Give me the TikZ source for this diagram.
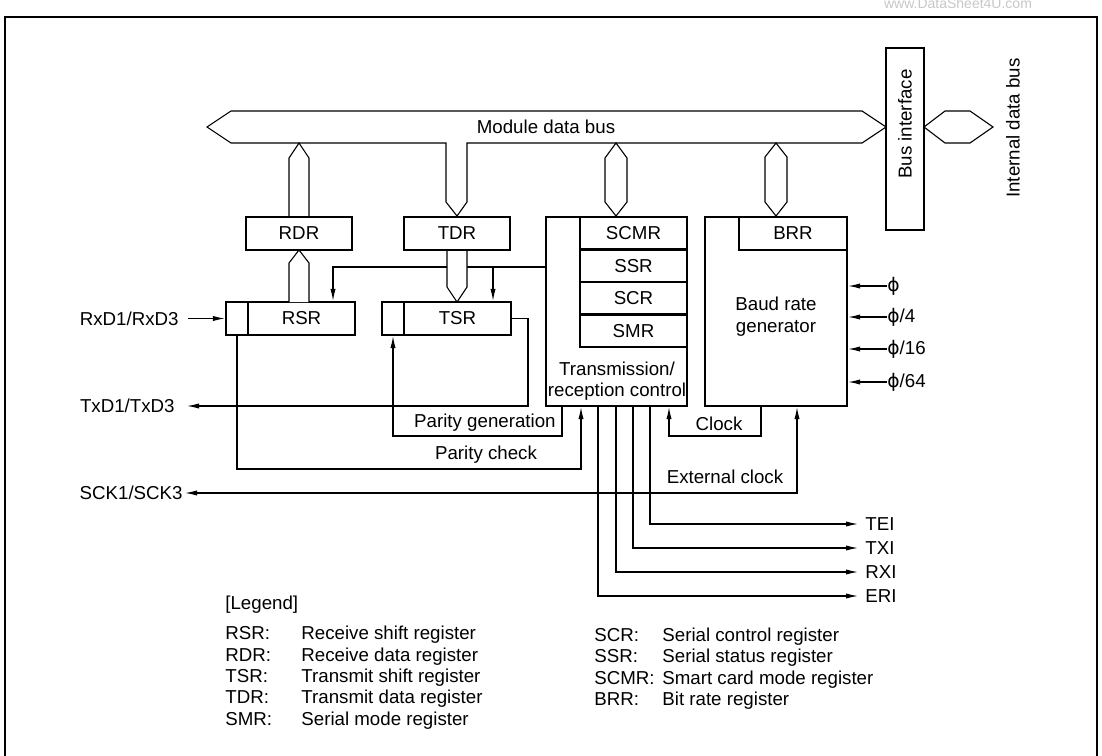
\documentclass[tikz,border=0pt]{standalone}
\usepackage{fontspec}
\setmainfont{Liberation Sans}
\newfontfamily\dejavu{DejaVu Sans}
\usetikzlibrary{arrows.meta}
\begin{document}
\begin{tikzpicture}[x=0.5pt,y=-0.5pt,
  font=\fontsize{9.35}{10.6}\selectfont,
  reg/.style={draw, line width=1.1pt, minimum height=16.5pt, inner sep=0pt},
  thin/.style={line width=0.55pt},
  bus/.style={line width=0.55pt, fill=white, line join=miter},
  arr/.style={line width=0.55pt, -{Latex[length=6pt,width=2.6pt]}},
  lbl/.style={inner sep=0pt}]
\useasboundingbox (0,0) rectangle (1102,755);
\clip (0,0) rectangle (1102,755);
% frame
\draw[line width=1.35pt] (5,770) -- (5,17) -- (1097,17) -- (1097,770);
\node[lbl, text=black!22, font=\fontsize{7}{7}\selectfont] (wm) at (958,3) {www.DataSheet4U.com};

% control line (under the TDR-TSR bus)
\coordinate (ctl) at (546,267);
\coordinate (ctl2) at (493,267);
\node[reg, minimum width=53.5pt] (rsrm) at (301.5,318.5) {RSR};
\node[reg, minimum width=11pt] (rsrc) at (237,318.5) {};
\node[reg, minimum width=53.5pt] (tsrm) at (457.5,318.5) {TSR};
\node[reg, minimum width=11pt] (tsrc) at (393,318.5) {};
\draw[arr] (ctl) -| (333,0 |- rsrm.north);
\draw[arr] (ctl2) -- (493,0 |- tsrm.north);

% module data bus with TDR stub
\draw[bus] (207,127) -- (231,111) -- (862,111) -- (886,127) -- (862,143) -- (467,143)
  -- (467,202) -- (457,216) -- (446,202) -- (446,143) -- (231,143) -- cycle;
\node[lbl] (mdb) at (546,127) {Module data bus};
% RDR stub
\draw[bus] (289,216) -- (289,158) -- (299,143) -- (309,158) -- (309,216);
% control stub
\draw[bus] (616,143) -- (627,158) -- (627,202) -- (616,216) -- (605,202) -- (605,158) -- cycle;
% BRR stub
\draw[bus] (776,143) -- (787,157) -- (787,202) -- (776,216) -- (765,202) -- (765,157) -- cycle;
% RSR -> RDR
\draw[bus] (289,302) -- (289,263) -- (299,250) -- (309,263) -- (309,302);
% TDR -> TSR
\draw[bus] (447,249) -- (447,287) -- (457,302) -- (467,287) -- (467,249);
% internal data bus
\draw[bus] (924,127) -- (945,111) -- (970,111) -- (993,127) -- (970,143) -- (945,143) -- cycle;

% registers
\node[reg, minimum width=53pt] (rdr) at (299,233.5) {RDR};
\node[reg, minimum width=53pt] (tdr) at (457,233.5) {TDR};
\node[reg, minimum width=70.5pt, minimum height=94.5pt] (ctrl) at (616.5,311.5) {};
\node[reg, minimum width=53.5pt, minimum height=16.25pt] (scmr) at (633.5,233.25) {SCMR};
\node[reg, minimum width=53.5pt, minimum height=16.25pt] (ssr) at (633.5,265.75) {SSR};
\node[reg, minimum width=53.5pt, minimum height=16.25pt] (scr) at (633.5,298.25) {SCR};
\node[reg, minimum width=53.5pt, minimum height=16.25pt] (smr) at (633.5,330.75) {SMR};
\node[lbl, align=center] (ctrltxt) at (617,381) {Transmission/\\reception control};
\node[reg, minimum width=71pt, minimum height=94.5pt] (brg) at (776,311.5) {};
\node[reg, minimum width=54pt] (brr) at (793,233.5) {BRR};
\node[lbl, align=center, font=\fontsize{9.35}{11}\selectfont] (brgtxt) at (776,317) {Baud rate\\generator};
\node[reg, minimum width=19pt, minimum height=91pt] (busif) at (905,139) {};
\node[lbl, rotate=90] (busiftxt) at (905,124) {Bus interface};
\node[lbl, rotate=90] (idb) at (1013,128) {Internal data bus};

% external pins
\node[lbl, anchor=east] (rxd) at (179,318.5) {RxD1/RxD3};
\node[lbl, anchor=east] (txd) at (175,406) {TxD1/TxD3};
\node[lbl, anchor=east] (sck) at (183,493) {SCK1/SCK3};
\draw[arr] ([xshift=4.5pt]rxd.east) -- (rsrc.west);
\draw[arr] (tsrm.east) -- (528,0 |- tsrm.east) |- ([xshift=6pt]txd.east);

% parity generation
\draw[arr] (562,0 |- ctrl.south) |- (tsrc.south |- 0,436) -- (tsrc.south);
\node[lbl, anchor=east] (pg) at (556,423) {Parity generation};
% parity check
\draw[arr] (rsrc.south) |- (581,469) -- (581,0 |- ctrl.south);
\node[lbl] (pc) at (486,455) {Parity check};
% clock
\draw[arr] (761,0 |- brg.south) |- (669,436) -- (669,0 |- ctrl.south);
\node[lbl] (clk) at (719,424) {Clock};
% external clock
\draw[line width=0.55pt, {Latex[length=6pt,width=2.6pt]}-{Latex[length=6pt,width=2.6pt]}]
  ([xshift=1pt]sck.east) -- (797,493) -- (797,0 |- brg.south);
\node[lbl] (eclk) at (725,477) {External clock};

% interrupts
\node[lbl, anchor=west] (tei) at (865,524) {TEI};
\node[lbl, anchor=west] (txi) at (865,548) {TXI};
\node[lbl, anchor=west] (rxi) at (865,572) {RXI};
\node[lbl, anchor=west] (eri) at (865,596) {ERI};
\draw[arr] (650,0 |- ctrl.south) |- ([xshift=-3.5pt]tei.west);
\draw[arr] (633,0 |- ctrl.south) |- ([xshift=-3.5pt]txi.west);
\draw[arr] (616,0 |- ctrl.south) |- ([xshift=-3.5pt]rxi.west);
\draw[arr] (598,0 |- ctrl.south) |- ([xshift=-3.5pt]eri.west);

% clock inputs
\node[lbl, anchor=west] (p1) at (887,286) {\dejavu ϕ};
\node[lbl, anchor=west] (p4) at (887,317) {\dejavu ϕ\normalfont/4};
\node[lbl, anchor=west] (p16) at (887,349) {\dejavu ϕ\normalfont/16};
\node[lbl, anchor=west] (p64) at (887,382) {\dejavu ϕ\normalfont/64};
\foreach \n in {p1,p4,p16,p64} \draw[arr] (\n.west) -- (brg.east |- \n.west);

% legend (baseline = centre + 6.5)
\node[lbl, anchor=base west] (leg) at (225,609.5) {[Legend]};
\foreach \ab/\tx/\yy [count=\i] in {RSR:/Receive shift register/639.5, RDR:/Receive data register/661.5,
  TSR:/Transmit shift register/682.5, TDR:/Transmit data register/703.5, SMR:/Serial mode register/725.5}
  { \node[lbl, anchor=base west] (la\i) at (225,\yy) {\ab};
    \node[lbl, anchor=base west] (lt\i) at (301,\yy) {\tx}; }
\foreach \ab/\tx/\yy [count=\i] in {SCR:/Serial control register/641.5, SSR:/Serial status register/662.5,
  SCMR:/Smart card mode register/684.5, BRR:/Bit rate register/705.5}
  { \node[lbl, anchor=base west] (ra\i) at (594,\yy) {\ab};
    \node[lbl, anchor=base west] (rt\i) at (662,\yy) {\tx}; }
\end{tikzpicture}
\end{document}
